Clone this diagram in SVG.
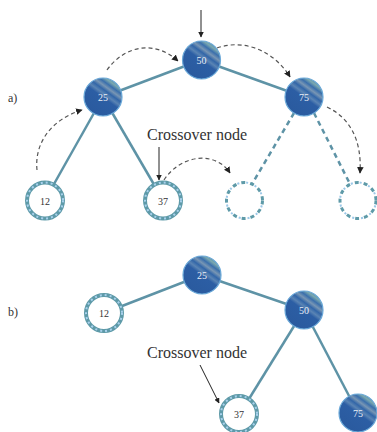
<svg xmlns="http://www.w3.org/2000/svg" width="377" height="432" viewBox="0 0 377 432">
<defs>
<linearGradient id="dk" x1="0.85" y1="0.05" x2="0.2" y2="0.95">
<stop offset="0" stop-color="#4a86b0"/>
<stop offset="0.12" stop-color="#7aa8b0"/>
<stop offset="0.2" stop-color="#3a6fac"/>
<stop offset="0.28" stop-color="#7896b4"/>
<stop offset="0.36" stop-color="#3266a8"/>
<stop offset="0.44" stop-color="#5a84b4"/>
<stop offset="0.52" stop-color="#2c5ea4"/>
<stop offset="1" stop-color="#2a5a9e"/>
</linearGradient>
<marker id="ah" viewBox="0 0 10 10" refX="9" refY="5" markerWidth="5.5" markerHeight="5.5" orient="auto">
<path d="M0,0 L10,5 L0,10 z" fill="#222"/>
</marker>
<style>
.dn{fill:url(#dk);stroke:#6aa8d8;stroke-width:1.2}
.ln{fill:#fff;stroke:#5e9aa8;stroke-width:4}
.lnd{fill:none;stroke:#a8d0ec;stroke-width:2;stroke-dasharray:2 3}
.gn{fill:none;stroke:#5e9aa8;stroke-width:3;stroke-dasharray:4 5}
.gnd{fill:none;stroke:#9cc8e8;stroke-width:2;stroke-dasharray:2 7;stroke-dashoffset:4}
.edge{stroke:#5e93a6;stroke-width:2.5;fill:none}
.dedge{stroke:#5e93a6;stroke-width:2.5;fill:none;stroke-dasharray:5 4}
.arc{stroke:#555;stroke-width:1.2;fill:none;stroke-dasharray:4 3}
.ptr{stroke:#222;stroke-width:1;fill:none}
.tw{font-family:"Liberation Serif",serif;font-size:10px;fill:#e8eef6;text-anchor:middle}
.tb{font-family:"Liberation Serif",serif;font-size:10px;fill:#333;text-anchor:middle}
.lab{font-family:"Liberation Serif",serif;font-size:16px;fill:#333;text-anchor:middle}
.sec{font-family:"Liberation Serif",serif;font-size:12px;fill:#333}
</style>
</defs>

<g id="connectors">
<line class="edge" x1="201" y1="60" x2="103" y2="97"/>
<line class="edge" x1="201" y1="60" x2="304" y2="97"/>
<line class="edge" x1="103" y1="97" x2="45" y2="200"/>
<line class="edge" x1="103" y1="97" x2="163" y2="200"/>
<line class="dedge" x1="294" y1="113" x2="252" y2="184"/>
<line class="dedge" x1="314" y1="113" x2="350" y2="184"/>
<path class="arc" d="M37,170 C34,140 55,118 82,110" marker-end="url(#ah)"/>
<path class="arc" d="M107,70 C125,45 155,40 178,61" marker-end="url(#ah)"/>
<path class="arc" d="M217,48 C245,38 275,52 290,77" marker-end="url(#ah)"/>
<path class="arc" d="M327,107 C350,118 362,140 360,173" marker-end="url(#ah)"/>
<path class="arc" d="M164,180 C180,155 215,150 230,173" marker-end="url(#ah)"/>
<line class="ptr" x1="201" y1="10" x2="201" y2="37" marker-end="url(#ah)"/>
<line class="ptr" x1="159" y1="147" x2="159" y2="180" marker-end="url(#ah)"/>
<line class="edge" x1="202" y1="275" x2="104" y2="313"/>
<line class="edge" x1="202" y1="275" x2="304" y2="310"/>
<line class="edge" x1="304" y1="310" x2="239" y2="415"/>
<line class="edge" x1="304" y1="310" x2="358" y2="413"/>
<line class="ptr" x1="200" y1="365" x2="219" y2="403" marker-end="url(#ah)"/>
</g>

<text class="sec" x="8" y="102">a)</text>
<text class="sec" x="8" y="316">b)</text>
<text class="lab" x="197" y="140">Crossover node</text>
<text class="lab" x="197" y="358">Crossover node</text>

<g id="a50"><circle class="dn" cx="201.5" cy="60" r="19"/><text class="tw" x="201.5" y="64">50</text></g>
<g id="a25"><circle class="dn" cx="103" cy="97" r="19"/><text class="tw" x="103" y="101">25</text></g>
<g id="a75"><circle class="dn" cx="304" cy="97" r="19"/><text class="tw" x="304" y="101">75</text></g>
<g id="a12"><circle class="ln" cx="45" cy="200.5" r="18"/><circle class="lnd" cx="45" cy="200.5" r="18"/><text class="tb" x="45" y="204.5">12</text></g>
<g id="a37"><circle class="ln" cx="163" cy="200.5" r="18"/><circle class="lnd" cx="163" cy="200.5" r="18"/><text class="tb" x="163" y="204.5">37</text></g>
<g id="aE1"><circle class="gn" cx="244.5" cy="200.5" r="18"/><circle class="gnd" cx="244.5" cy="200.5" r="18"/></g>
<g id="aE2"><circle class="gn" cx="358" cy="200.5" r="18"/><circle class="gnd" cx="358" cy="200.5" r="18"/></g>

<g id="b25"><circle class="dn" cx="202" cy="275" r="19"/><text class="tw" x="202" y="279">25</text></g>
<g id="b12"><circle class="ln" cx="104" cy="313" r="18"/><circle class="lnd" cx="104" cy="313" r="18"/><text class="tb" x="104" y="317">12</text></g>
<g id="b50"><circle class="dn" cx="304" cy="310" r="19"/><text class="tw" x="304" y="314">50</text></g>
<g id="b37"><circle class="ln" cx="239" cy="414" r="18"/><circle class="lnd" cx="239" cy="414" r="18"/><text class="tb" x="239" y="418">37</text></g>
<g id="b75"><circle class="dn" cx="358" cy="413" r="19"/><text class="tw" x="358" y="417">75</text></g>
</svg>
